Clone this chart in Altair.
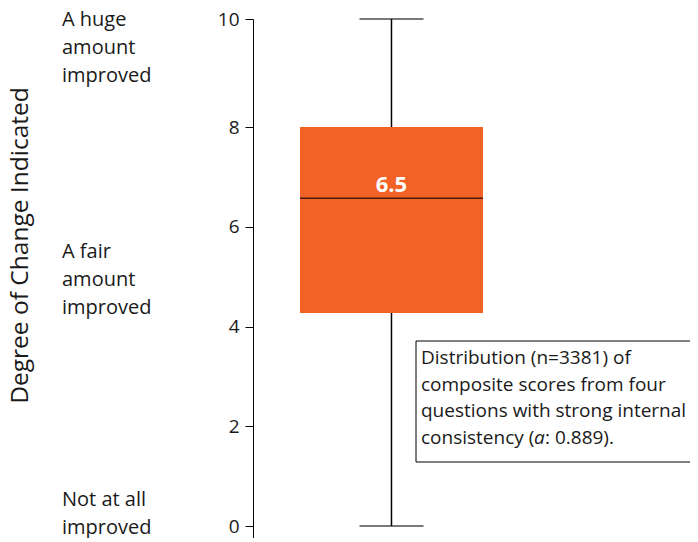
import altair as alt
import pandas as pd

# ---- data ----
categories = ["Composite score"]
lower_whisker = [0.0]
q1 = [4.27]
median = [6.57]
q3 = [8.0]
upper_whisker = [10.0]
median_label = ["6.5"]

y_ticks = [0, 2, 4, 6, 8, 10]
level_labels = ["A huge\namount\nimproved", "A fair\namount\nimproved", "Not at all\nimproved"]
level_values = [9.98, 5.5, 0.52]

note_lines = ["Distribution (n=3381) of", "composite scores from four",
              "questions with strong internal"]
note_last = ["consistency (", "a", ": 0.889)."]

FONT = "Open Sans"
BOX_COLOR = "#F26125"
TEXT = "#1a1a1a"
NOTE_SIZE = 19

box_df = pd.DataFrame({
    "cat": categories, "lo": lower_whisker, "q1": q1, "med": median,
    "q3": q3, "hi": upper_whisker, "label": median_label,
})
cap_df = pd.DataFrame({"cat": categories * 2, "v": lower_whisker + upper_whisker})
lvl_df = pd.DataFrame({"label": level_labels, "v": level_values})
note_df = pd.DataFrame({"text": ["\n".join(note_lines)]})
one = pd.DataFrame({"k": [0]})

PLOT_H = 519
xscale = alt.Scale(type="point", padding=0, align=0.3169)
xaxis = alt.Axis(title=None, labels=False, ticks=False, domain=True,
                 domainColor="black", domainWidth=1, grid=False)
# the original axis is drawn with a slightly longer top segment (8 -> 10)
yscale = alt.Scale(domain=[-0.24, 8, 10], range=[PLOT_H, 108, 0], nice=False, zero=False)
yaxis = alt.Axis(values=y_ticks, tickSize=8, tickColor="black", tickWidth=1,
                 domainColor="black", domainWidth=1, grid=False,
                 labelFontSize=19, labelFont=FONT, labelColor=TEXT, labelPadding=6,
                 title="Degree of Change Indicated", titleFontSize=24.5, titleFont=FONT,
                 titleFontWeight="normal", titleColor=TEXT,
                 titleX=-226, titleY=226, titleAngle=270,
                 titleAlign="center", titleBaseline="alphabetic")

X = alt.X("cat:N", scale=xscale, axis=xaxis)

whisker = alt.Chart(box_df).mark_rule(color="black", strokeWidth=1.5).encode(
    x=X, y=alt.Y("lo:Q", scale=yscale, axis=yaxis), y2="hi")
box = alt.Chart(box_df).mark_bar(size=183, color=BOX_COLOR).encode(
    x=X, y="q1:Q", y2="q3")
med = alt.Chart(box_df).mark_tick(size=183, thickness=1.5, color="black").encode(
    x=X, y="med:Q")
caps = alt.Chart(cap_df).mark_tick(size=64, thickness=1.5, color="black").encode(
    x=X, y="v:Q")
med_text = alt.Chart(box_df).mark_text(color="white", fontWeight="bold", fontSize=22,
                                       font=FONT, baseline="alphabetic", dy=-6).encode(
    x=X, y="med:Q", text="label:N")
levels = alt.Chart(lvl_df).mark_text(align="left", baseline="middle", fontSize=20,
                                     font=FONT, lineHeight=28, lineBreak="\n",
                                     color=TEXT).encode(
    x=alt.value(-191), y="v:Q", text="label:N")

note_box = alt.Chart(one).mark_rect(fill="white", stroke="black", strokeWidth=1).encode(
    x=alt.value(163), x2=alt.value(460), y=alt.value(322), y2=alt.value(443))
note_text = alt.Chart(note_df).mark_text(align="left", baseline="middle", fontSize=NOTE_SIZE,
                                         font=FONT, lineHeight=26.7, lineBreak="\n",
                                         color=TEXT).encode(
    x=alt.value(168), y=alt.value(339), text="text:N")
n1 = alt.Chart(pd.DataFrame({"text": [note_last[0]]})).mark_text(
    align="left", baseline="middle", fontSize=NOTE_SIZE, font=FONT, color=TEXT).encode(
    x=alt.value(168), y=alt.value(419), text="text:N")
n2 = alt.Chart(pd.DataFrame({"text": [note_last[1]]})).mark_text(
    align="left", baseline="middle", fontSize=NOTE_SIZE, font=FONT, fontStyle="italic",
    color=TEXT).encode(x=alt.value(281), y=alt.value(419), text="text:N")
n3 = alt.Chart(pd.DataFrame({"text": [note_last[2]]})).mark_text(
    align="left", baseline="middle", fontSize=NOTE_SIZE, font=FONT, color=TEXT).encode(
    x=alt.value(292), y=alt.value(419), text="text:N")

chart = alt.layer(whisker, box, med, caps, med_text, levels,
                  note_box, note_text, n1, n2, n3).properties(
    width=437, height=PLOT_H,
    autosize=alt.AutoSizeParams(type="none"),
    padding={"left": 245, "top": 11, "right": 0, "bottom": 0},
    background="white",
).configure_view(stroke=None)

chart.save("out.html", embed_options={"renderer": "svg", "actions": False})
